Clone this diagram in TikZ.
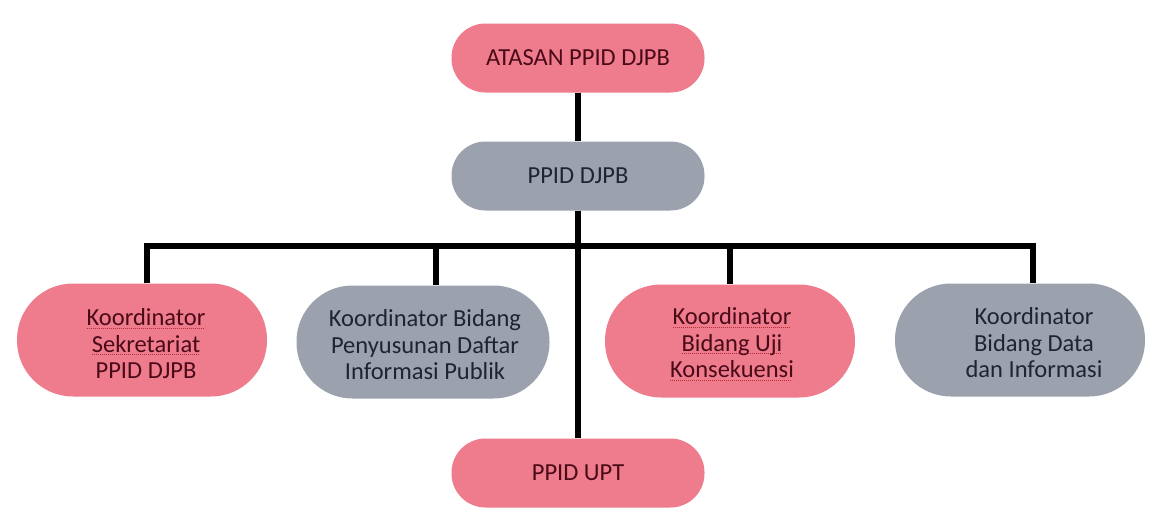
\documentclass[tikz,border=0pt]{standalone}
\usepackage{fontspec}
\setmainfont{Carlito}
\definecolor{pinkfill}{HTML}{EE7C8D}
\definecolor{grayfill}{HTML}{9BA2AE}
\definecolor{pinktext}{HTML}{4A0A18}
\definecolor{graytext}{HTML}{1E2530}
\definecolor{ulred}{HTML}{B8303A}
\newsavebox{\splbox}
\newcommand{\spl}[1]{\sbox{\splbox}{#1}\leavevmode\rlap{\raisebox{-3pt}{\color{ulred}\hbox to \wd\splbox{\leaders\hbox to 2pt{\rule{1.2pt}{1pt}\hss}\hfil}}}\usebox{\splbox}}
\begin{document}
\begin{tikzpicture}[x=1pt,y=-1pt,
  topbox/.style={rounded corners=34pt, minimum width=253pt, minimum height=69pt, inner sep=0pt,
    font=\fontsize{24.5}{28}\selectfont},
  lowbox/.style={rounded corners=56pt, minimum height=113pt, inner sep=0pt},
  pinkbox/.style={fill=pinkfill, text=pinktext},
  graybox/.style={fill=grayfill, text=graytext},
  lowtext/.style={align=center, inner sep=0pt, font=\fontsize{24.5}{26.5}\selectfont},
  link/.style={line width=6pt, line join=miter}]
\useasboundingbox (0,0) rectangle (1149,514);
\fill[white] (0,0) rectangle (1149,514);
% top nodes
\node[topbox, pinkbox] (atasan) at (578,58) {ATASAN PPID DJPB};
\node[topbox, graybox] (ppid) at (578,176) {PPID DJPB};
\node[topbox, pinkbox] (upt) at (578,473) {PPID UPT};
% lower boxes
\node[lowbox, pinkbox, minimum width=250pt] (k1) at (142,340) {};
\node[lowbox, graybox, minimum width=253pt] (k2) at (423,342) {};
\node[lowbox, pinkbox, minimum width=250pt] (k3) at (730,341) {};
\node[lowbox, graybox, minimum width=250pt] (k4) at (1020,340) {};
\node[lowtext, text=pinktext] (t1) at (146,344) {\spl{Koordinator}\\\spl{Sekretariat}\\PPID DJPB};
\node[lowtext, text=graytext] (t2) at (425,345) {Koordinator Bidang\\Penyusunan Daftar\\Informasi Publik};
\node[lowtext, text=pinktext] (t3) at (732,344) {\spl{Koordinator}\\\spl{Bidang Uji}\\\spl{Konsekuensi}};
\node[lowtext, text=graytext] (t4) at (1034,343) {Koordinator\\Bidang Data\\dan Informasi};
% connector coordinates
\coordinate (d1) at (147,246);
\coordinate (d2) at (436,246);
\coordinate (d3) at (730,246);
\coordinate (d4) at (1033,246);
% connectors
\draw[link] (atasan.south) -- (ppid.north);
\draw[link] (ppid.south) -- (upt.north);
\draw[link] (d1 |- k1.north) -- (d1) -- (d4) -- (d4 |- k4.north);
\draw[link] (d2) -- (d2 |- k2.north);
\draw[link] (d3) -- (k3.north);
\end{tikzpicture}
\end{document}
